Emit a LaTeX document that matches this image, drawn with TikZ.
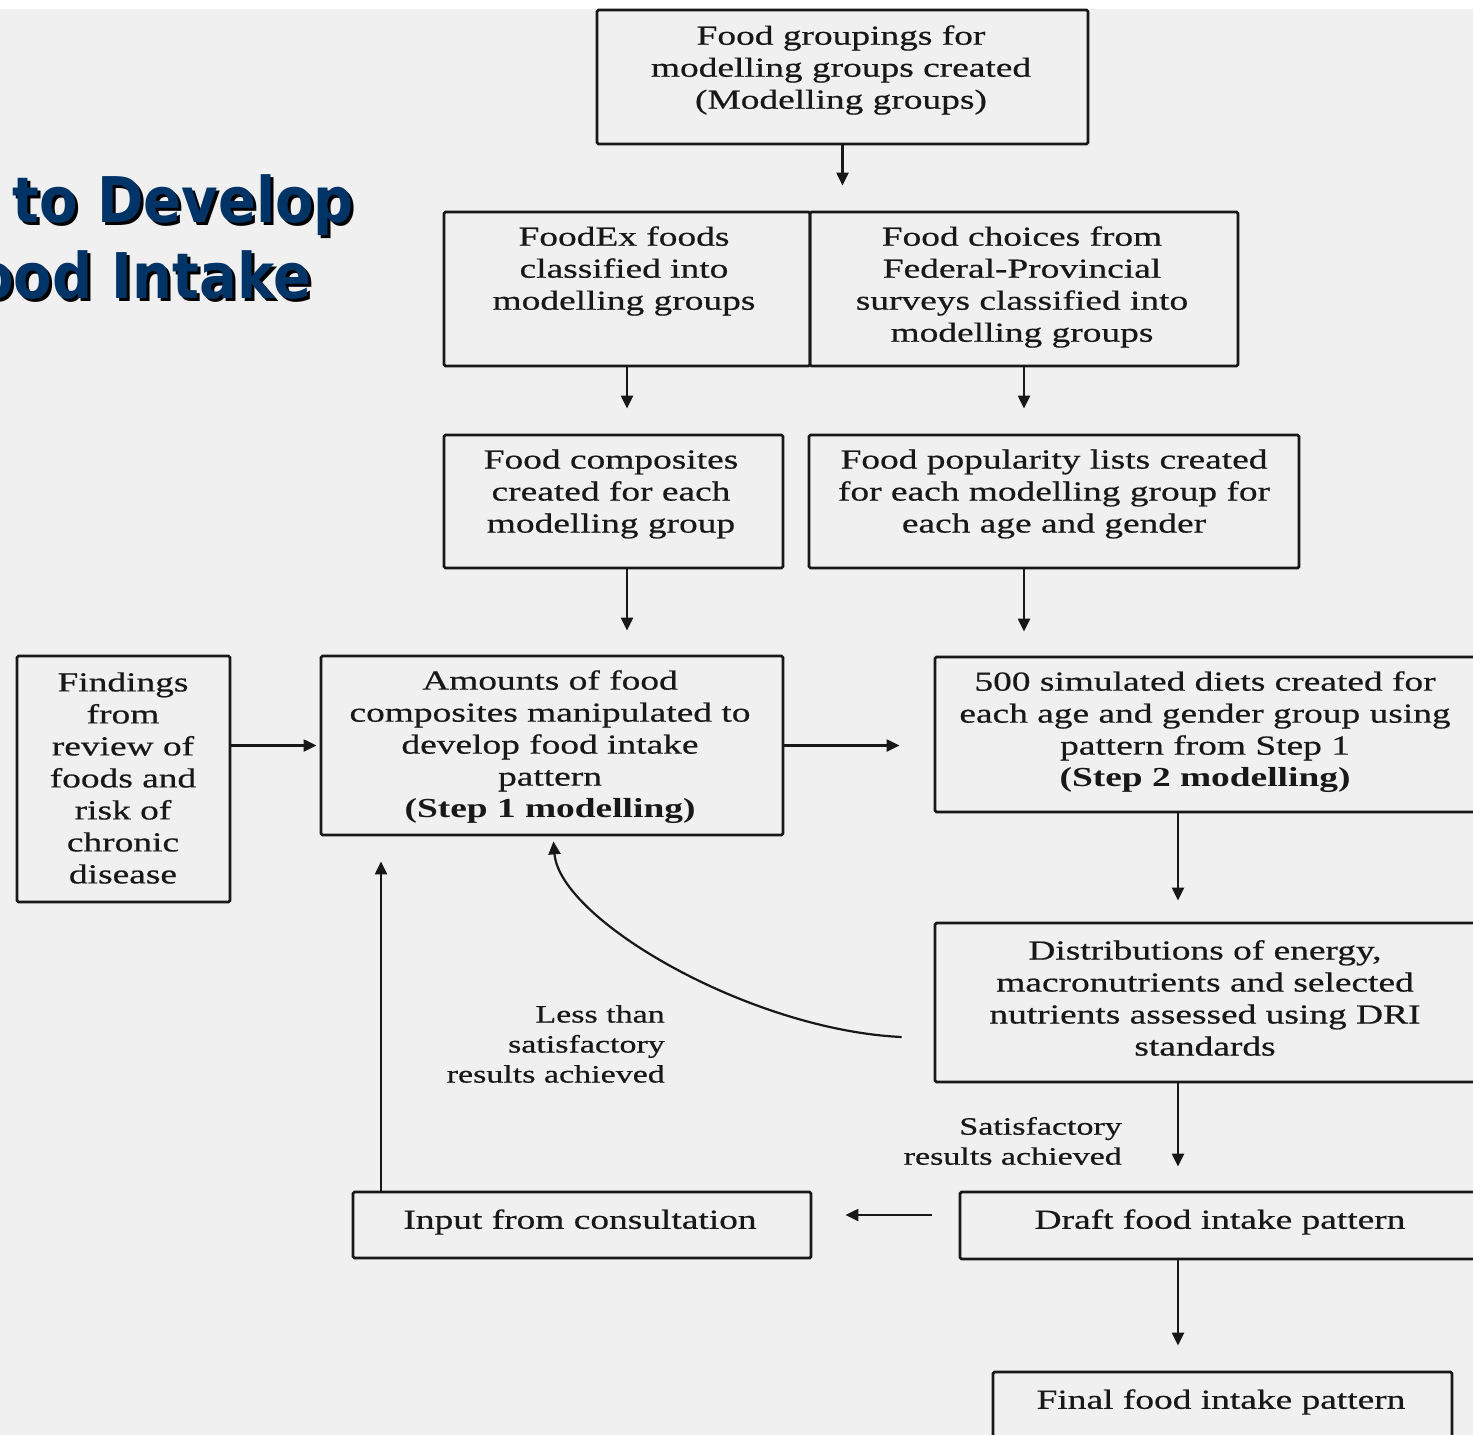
\documentclass[tikz,border=0pt]{standalone}
\usepackage{fontspec}
\setmainfont{Liberation Serif}[FakeStretch=1.36, UprightFeatures={FakeBold=0.6}]
\newfontfamily\titlefont{DejaVu Sans}[FakeStretch=0.89]
\usetikzlibrary{arrows.meta}
\definecolor{bgc}{RGB}{240,240,240}
\definecolor{ink}{RGB}{24,24,24}
\definecolor{titleblue}{RGB}{0,51,102}
\begin{document}
\begin{tikzpicture}[x=1pt,y=-1pt,
  box/.style={draw=ink, line width=2.8pt, rounded corners=1.5pt, inner sep=0pt, rectangle},
  txt/.style={font=\fontsize{27.5}{32}\selectfont, align=center, inner sep=0pt, text=ink},
  lbl/.style={font=\fontsize{25}{30}\selectfont, align=right, inner sep=0pt, text=ink, anchor=east},
  arr/.style={draw=ink, line width=2.2pt, -{Triangle[length=13pt,width=12pt]}},
  ttl/.style={font=\titlefont\bfseries\fontsize{63}{70}\selectfont, inner sep=0pt, anchor=base west}]
\useasboundingbox (0,0) rectangle (1473,1435);
\clip (0,0) rectangle (1473,1435);
\fill[white] (0,0) rectangle (1473,9);
\fill[bgc] (0,9) rectangle (1473,1435);

% title (partly cut off at the left)
\node[ttl, text=black] (t1s) at (15,225) {to Develop};
\node[ttl, text=titleblue] (t1) at (12,222) {to Develop};
\node[ttl, text=black] (t2s) at (-22,301) {ood Intake};
\node[ttl, text=titleblue] (t2) at (-25,298) {ood Intake};

% boxes
\node[box, minimum width=491pt, minimum height=134pt] (top) at (842.5,77) {};
\node[box, minimum width=366pt, minimum height=154pt] (foodex) at (627,289) {};
\node[box, minimum width=428pt, minimum height=154pt] (choices) at (1024,289) {};
\node[box, minimum width=339pt, minimum height=133pt] (comp) at (613.5,501.5) {};
\node[box, minimum width=490pt, minimum height=133pt] (pop) at (1054,501.5) {};
\node[box, minimum width=213pt, minimum height=246pt] (findings) at (123.5,779) {};
\node[box, minimum width=462pt, minimum height=179pt] (amounts) at (552,745.5) {};
\node[box, minimum width=545pt, minimum height=155pt] (sim) at (1207.5,734.5) {};
\node[box, minimum width=545pt, minimum height=159pt] (dist) at (1207.5,1002.5) {};
\node[box, minimum width=458pt, minimum height=66pt] (input) at (582,1225) {};
\node[box, minimum width=520pt, minimum height=67pt] (draft) at (1220,1225.5) {};
\node[box, minimum width=459pt, minimum height=73pt] (final) at (1222.5,1408.5) {};

% box texts
\node[txt] (toptxt) at (841,70) {Food groupings for\\modelling groups created\\(Modelling groups)};
\node[txt] (foodextxt) at (624,271) {FoodEx foods\\classified into\\modelling groups};
\node[txt] (choicestxt) at (1022,287) {Food choices from\\Federal-Provincial\\surveys classified into\\modelling groups};
\node[txt] (comptxt) at (611,494) {Food composites\\created for each\\modelling group};
\node[txt] (poptxt) at (1054,494) {Food popularity lists created\\for each modelling group for\\each age and gender};
\node[txt] (findingstxt) at (123,778) {Findings\\from\\review of\\foods and\\risk of\\chronic\\disease};
\node[txt] (amountstxt) at (550,747) {Amounts of food\\composites manipulated to\\develop food intake\\pattern\\\textbf{(Step 1 modelling)}};
\node[txt] (simtxt) at (1205,732) {500 simulated diets created for\\each age and gender group using\\pattern from Step 1\\\textbf{(Step 2 modelling)}};
\node[txt] (disttxt) at (1205,998) {Distributions of energy,\\macronutrients and selected\\nutrients assessed using DRI\\standards};
\node[txt] (inputtxt) at (580,1222) {Input from consultation};
\node[txt] (drafttxt) at (1220,1222) {Draft food intake pattern};
\node[txt] (finaltxt) at (1221,1402) {Final food intake pattern};

% edge labels
\node[lbl] (lessl) at (665,1044) {Less than\\satisfactory\\results achieved};
\node[lbl] (satl) at (1122,1141) {Satisfactory\\results achieved};

% helper coordinates
\coordinate (col) at (1178,0);
\coordinate (row) at (0,1215);
\coordinate (incol) at (381,0);

% arrows
\draw[arr, shorten >=25pt] (top.south) -- (top.south |- foodex.north);
\draw[arr, shorten >=25pt] (foodex.south) -- (foodex.south |- comp.north);
\draw[arr, shorten >=25pt] (choices.south) -- (choices.south |- pop.north);
\draw[arr, shorten >=24pt] (comp.south -| foodex.south) -- (amounts.north -| foodex.south);
\draw[arr, shorten >=24pt] (pop.south -| choices.south) -- (sim.north -| choices.south);
\draw[arr, shorten >=3pt] (findings.east |- amounts.west) -- (amounts.west);
\draw[arr, shorten >=34pt] (amounts.east) -- (amounts.east -| sim.west);
\draw[arr, shorten >=21pt] (sim.south -| col) -- (dist.north -| col);
\draw[arr, shorten >=24pt] (dist.south -| col) -- (draft.north -| col);
\draw[arr, shorten >=25pt] (draft.south -| col) -- (final.north -| col);
\draw[arr, shorten <=27pt, shorten >=33pt] (draft.west |- row) -- (input.east |- row);
\draw[arr, shorten >=25pt] (input.north -| incol) -- (amounts.south -| incol);
\draw[arr, shorten >=5pt] ([xshift=-32pt,yshift=-34.5pt]dist.west) .. controls (750,1030) and (560,920) .. ([xshift=1pt]amounts.south);
\end{tikzpicture}
\end{document}
